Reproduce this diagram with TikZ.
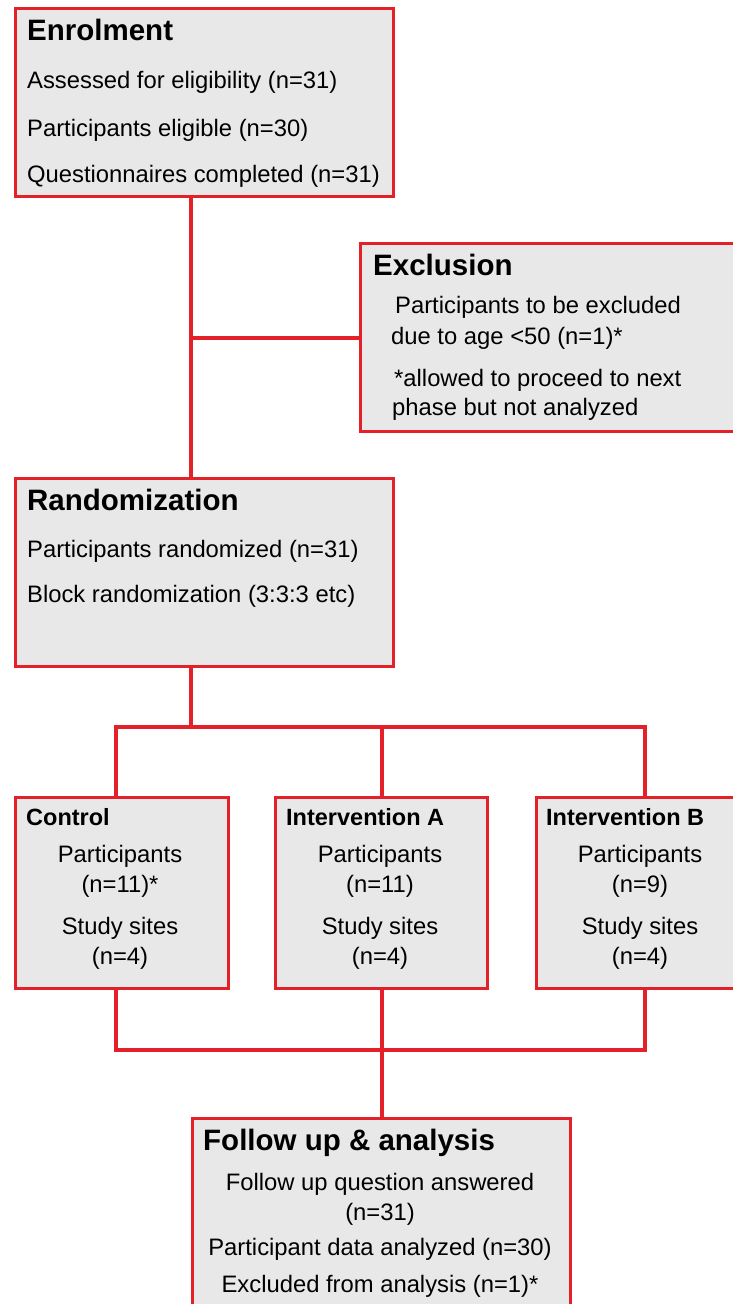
\documentclass[tikz,border=0pt]{standalone}
\usepackage{fontspec}
\setmainfont{Liberation Sans}
\usetikzlibrary{positioning}
\definecolor{flowred}{RGB}{228,32,40}
\definecolor{boxgray}{RGB}{232,232,232}

\begin{document}
\begin{tikzpicture}[x=1pt,y=-1pt,
  box/.style={draw=flowred,fill=boxgray,line width=3pt,rectangle,anchor=north west,inner sep=0pt},
  link/.style={draw=flowred,line width=4pt,line join=miter},
  head/.style={anchor=base west,inner sep=0pt,font=\bfseries\fontsize{29.5}{32}\selectfont},
  subhead/.style={anchor=base west,inner sep=0pt,font=\bfseries\fontsize{23.5}{26}\selectfont},
  body/.style={anchor=base west,inner sep=0pt,font=\fontsize{23.8}{28}\selectfont},
  cbody/.style={body,anchor=base}]
\useasboundingbox (0,0) rectangle (733,1304);

% boxes
\node[box,minimum width=378pt,minimum height=188pt] (enrol) at (14,7) {};
\node[box,minimum width=390pt,minimum height=188pt] (excl) at (359,242) {};
\node[box,minimum width=378pt,minimum height=188pt] (rand) at (14,477) {};
\node[box,minimum width=213pt,minimum height=191pt] (ctrl) at (14,796) {};
\node[box,minimum width=212pt,minimum height=191pt] (intA) at (274,796) {};
\node[box,minimum width=220pt,minimum height=191pt] (intB) at (535,796) {};
\node[box,minimum width=378pt,minimum height=200pt] (follow) at (191,1117) {};

% Enrolment
\node[head] (enrolT) at (27,40) {Enrolment};
\node[body] (enrolA) at (27,88) {Assessed for eligibility (n=31)};
\node[body] (enrolB) at (27,136) {Participants eligible (n=30)};
\node[body] (enrolC) at (27,182) {Questionnaires completed (n=31)};

% Exclusion
\node[head] (exclT) at (373,275) {Exclusion};
\node[body] (exclA) at (395,313) {Participants to be excluded};
\node[body] (exclB) at (391,344) {due to age <50 (n=1)*};
\node[body] (exclC) at (394,386) {*allowed to proceed to next};
\node[body] (exclD) at (392,415) {phase but not analyzed};

% Randomization
\node[head] (randT) at (27,510) {Randomization};
\node[body] (randA) at (27,557) {Participants randomized (n=31)};
\node[body] (randB) at (27,602) {Block randomization (3:3:3 etc)};

% arms
\node[subhead] (ctrlT) at (26,825) {Control};
\node[cbody] (ctrlA) at (120,862) {Participants};
\node[cbody] (ctrlB) at (120,892) {(n=11)*};
\node[cbody] (ctrlC) at (120,934) {Study sites};
\node[cbody] (ctrlD) at (120,964) {(n=4)};

\node[subhead] (intAT) at (286,825) {Intervention A};
\node[cbody] (intAA) at (380,862) {Participants};
\node[cbody] (intAB) at (380,892) {(n=11)};
\node[cbody] (intAC) at (380,934) {Study sites};
\node[cbody] (intAD) at (380,964) {(n=4)};

\node[subhead] (intBT) at (546,825) {Intervention B};
\node[cbody] (intBA) at (640,862) {Participants};
\node[cbody] (intBB) at (640,892) {(n=9)};
\node[cbody] (intBC) at (640,934) {Study sites};
\node[cbody] (intBD) at (640,964) {(n=4)};

% Follow up
\node[head] (followT) at (203,1150) {Follow up \& analysis};
\node[cbody] (followA) at (380,1190) {Follow up question answered};
\node[cbody] (followB) at (380,1220) {(n=31)};
\node[cbody] (followC) at (380,1255) {Participant data analyzed (n=30)};
\node[cbody] (followD) at (380,1292) {Excluded from analysis (n=1)*};

% connectors
\coordinate (j1) at (191,338);
\coordinate (s1) at (116,727);
\coordinate (s2) at (191,727);
\coordinate (s3) at (645,727);
\coordinate (m1) at (116,1050);
\coordinate (m3) at (645,1050);
\draw[link] (enrol.south -| j1) -- (rand.north -| j1);
\draw[link] (j1) -- (excl.west |- j1);
\draw[link] (rand.south -| s2) -- (s2);
\draw[link] (ctrl.north -| s1) -- (s1) -- (s3) -- (intB.north -| s3);
\draw[link] (intA.north) -- (intA.north |- s1);
\draw[link] (ctrl.south -| m1) -- (m1) -- (m3) -- (intB.south -| m3);
\draw[link] (intA.south) -- (follow.north);
\end{tikzpicture}
\end{document}
